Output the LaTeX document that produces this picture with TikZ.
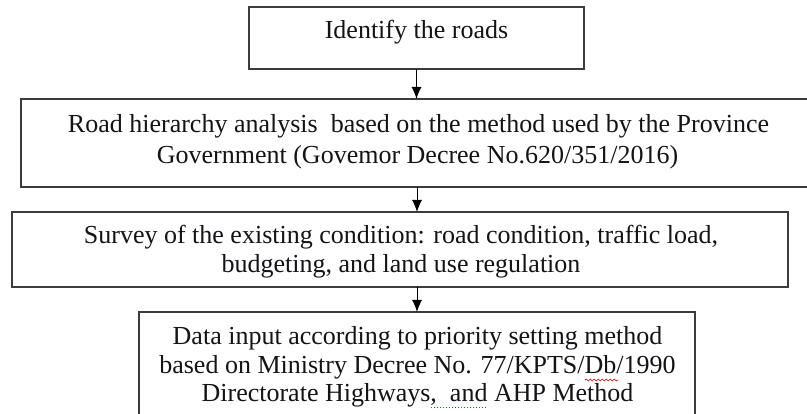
\documentclass[tikz,border=0pt]{standalone}
\usepackage{fontspec}
\setmainfont{Liberation Serif}
\usetikzlibrary{arrows.meta,decorations.pathmorphing}
\definecolor{boxline}{HTML}{3C3C3C}
\definecolor{ink}{HTML}{141418}
\tikzset{
  stepbox/.style={draw=boxline, line width=1.7pt, fill=white, inner sep=0pt, outer sep=0pt},
  linetext/.style={anchor=base, inner sep=0pt, text=ink, font=\fontsize{26}{29}\selectfont},
  flowarrow/.style={draw=black, line width=1pt, -{Latex[length=12pt,width=10pt]}},
}
\begin{document}
\begin{tikzpicture}[x=1pt,y=-1pt]
  \useasboundingbox (0,0) rectangle (807,414);
  \clip (0,0) rectangle (807,414);
  \fill[white] (0,0) rectangle (807,414);

  % process boxes
  \node[stepbox, minimum width=335pt, minimum height=62pt] (b1) at (416.5,38) {};
  \node[stepbox, minimum width=792pt, minimum height=88pt] (b2) at (417,143) {};
  \node[stepbox, minimum width=776pt, minimum height=75pt] (b3) at (400,249.5) {};
  \node[stepbox, minimum width=556pt, minimum height=128pt] (b4) at (417,376) {};

  % box texts
  \node[linetext] (t1) at (416.5,39) {Identify the roads};
  \node[linetext] (t2a) at (418.5,133) {Road hierarchy analysis\ \ based on the method used by the Province};
  \node[linetext] (t2b) at (417.5,164) {Government (Govemor Decree No.620/351/2016)};
  \node[linetext] (t3a) at (401,244) {Survey of the existing condition: road condition, traffic load,};
  \node[linetext] (t3b) at (401,273) {budgeting, and land use regulation};
  \node[linetext] (t4a) at (417.5,345) {Data input according to priority setting method};
  \node[linetext] (t4b) at (417.5,374) {based on Ministry Decree No. 77/KPTS/Db/1990};
  \node[linetext] (t4c) at (417.5,402) {Directorate Highways,\ \ and AHP Method};

  % proofing marks under the last box text
  \coordinate (wavyL) at (585,380);
  \coordinate (wavyR) at (618,380);
  \draw[red!85!black, line width=0.7pt, decorate, decoration={snake, amplitude=1pt, segment length=4pt}] (wavyL) -- (wavyR);
  \coordinate (dotL) at (431,408);
  \coordinate (dotR) at (487,408);
  \draw[green!55!black, line width=1pt, dotted] (dotL) -- (dotR);

  % connectors
  \draw[flowarrow] (b1.south) -- (b1.south |- b2.north);
  \draw[flowarrow] (b2.south) -- (b2.south |- b3.north);
  \draw[flowarrow] (b4.north |- b3.south) -- (b4.north);
\end{tikzpicture}
\end{document}
